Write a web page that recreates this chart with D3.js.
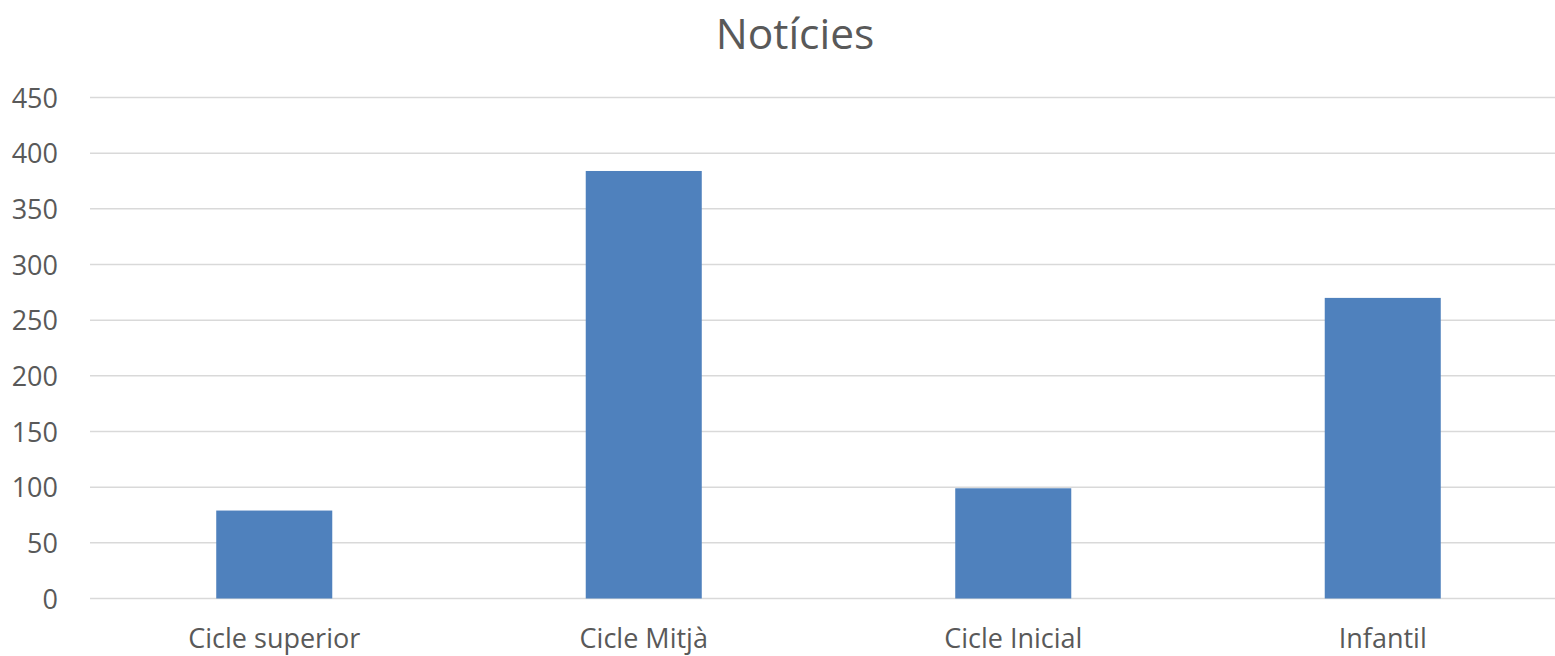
<!DOCTYPE html>
<html>
<head>
<meta charset="utf-8">
<script src="https://cdn.jsdelivr.net/npm/d3@7"></script>
<style>
  body { margin: 0; background: #fff; }
  text { font-family: "Open Sans", sans-serif; fill: #595959; }
</style>
</head>
<body>
<script>
// chart data
const categories = ["Cicle superior", "Cicle Mitjà", "Cicle Inicial", "Infantil"];
const values = [79, 384, 99, 270];
const yTicks = [0, 50, 100, 150, 200, 250, 300, 350, 400, 450];
const title = "Notícies";

// setup
const w = 1555;
const h = 656;

const svg = d3.select("body")
    .append("svg")
    .attr("width", w)
    .attr("height", h);

const xScale = d3.scaleBand()
    .domain(categories)
    .range([89.5, 1567.5])
    .paddingInner(0.686)
    .paddingOuter(0.343);

const yScale = d3.scaleLinear()
    .domain([0, 450])
    .range([598.5, 97.5]);

// gridlines
svg.append("g")
    .selectAll("line")
    .data(yTicks)
    .enter()
    .append("line")
    .attr("x1", 90)
    .attr("x2", w)
    .attr("y1", d => yScale(d))
    .attr("y2", d => yScale(d))
    .attr("stroke", "#d9d9d9")
    .attr("stroke-width", 1.5);

// y labels
const yAxis = d3.axisLeft(yScale).tickValues(yTicks).tickSize(0).tickPadding(0);
svg.append("g")
    .attr("transform", "translate(58,0)")
    .call(yAxis)
    .call(g => g.select(".domain").remove())
    .call(g => g.selectAll("text")
        .attr("font-size", 27)
        .attr("font-family", "'Open Sans', sans-serif")
        .attr("fill", "#595959")
        .attr("dy", "0.36em"));

// bars
svg.append("g")
    .selectAll("rect")
    .data(values)
    .enter()
    .append("rect")
    .attr("x", (d, i) => xScale(categories[i]))
    .attr("y", d => yScale(d))
    .attr("width", xScale.bandwidth())
    .attr("height", d => yScale(0) - yScale(d))
    .attr("fill", "#4f81bd");

// x labels
const xAxis = d3.axisBottom(xScale).tickSize(0).tickPadding(0);
svg.append("g")
    .attr("transform", "translate(0,648)")
    .call(xAxis)
    .call(g => g.select(".domain").remove())
    .call(g => g.selectAll("text")
        .attr("font-size", 27)
        .attr("font-family", "'Open Sans', sans-serif")
        .attr("fill", "#595959")
        .attr("dy", 0));

// title
svg.append("text")
    .attr("x", 795)
    .attr("y", 49)
    .attr("text-anchor", "middle")
    .attr("font-size", 42.5)
    .text(title);
</script>
</body>
</html>
